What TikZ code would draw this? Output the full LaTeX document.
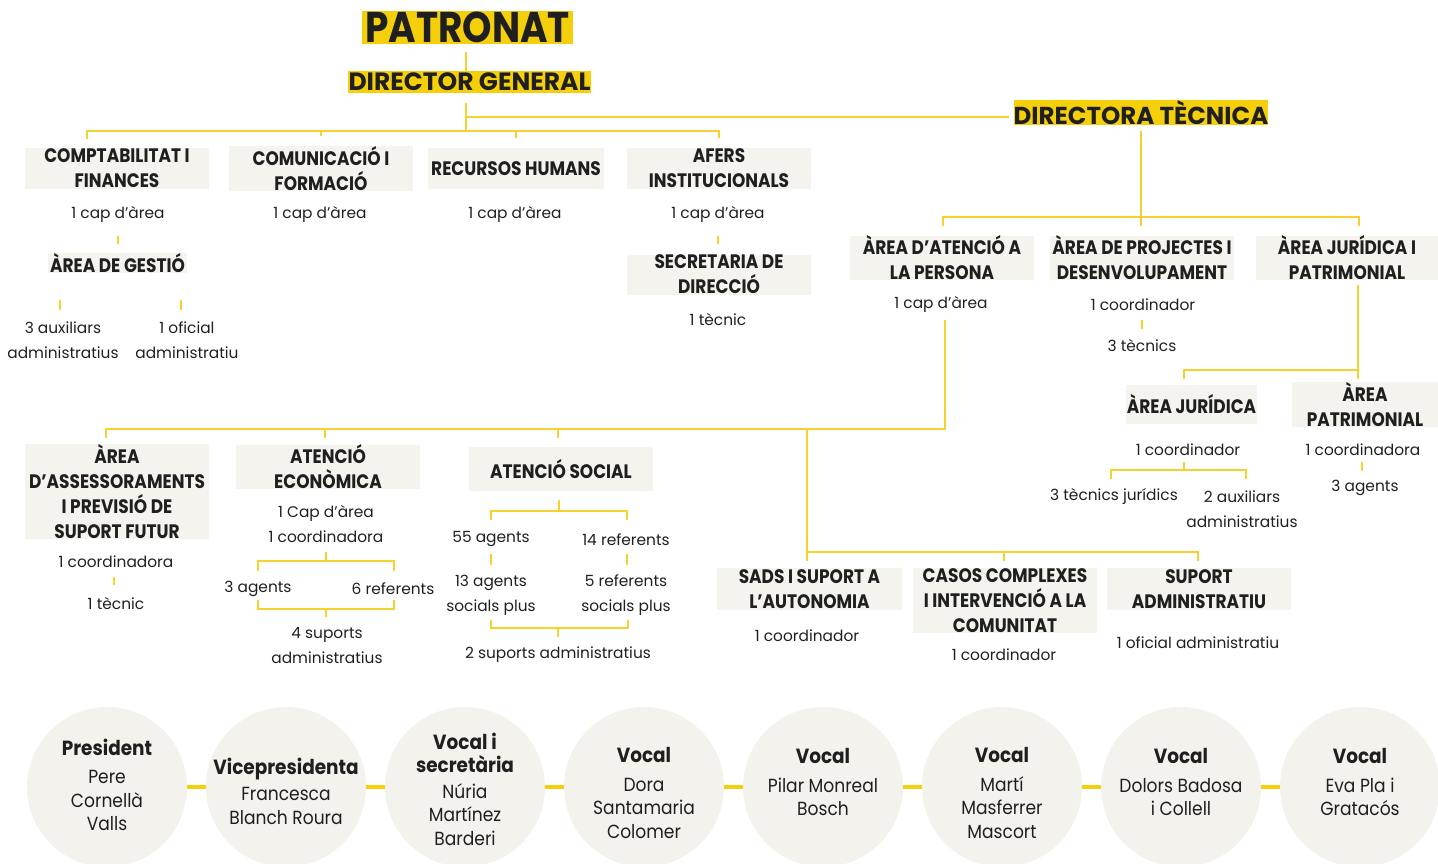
\documentclass[tikz,border=0pt]{standalone}
\usepackage{fontspec}
\setmainfont{Poppins}
\newfontfamily\hdfont{Poppins}[FakeStretch=0.87]
\newfontfamily\cfont{Poppins}[FakeStretch=0.9]
\definecolor{hyel}{HTML}{F5CF0A}
\definecolor{lyel}{HTML}{F6D22E}
\definecolor{boxc}{HTML}{F4F3EE}
\definecolor{circc}{HTML}{F3F2ED}
\definecolor{ink}{HTML}{1F1F1F}
\tikzset{
  ln/.style={draw=lyel, line width=1.8pt},
  conn/.style={draw=hyel, line width=4pt},
  hl/.style={fill=hyel, text=ink, inner sep=0pt},
  gbox/.style={fill=boxc, text=ink, inner sep=0pt, minimum width=184pt, minimum height=40pt, align=center, font=\hdfont\bfseries\fontsize{19.5}{25}\selectfont},
  tx/.style={text=ink, inner sep=0pt, align=center, yshift=-1.5pt, font=\fontsize{15.4}{25}\selectfont},
  circ/.style={circle, fill=circc, minimum size=160pt, inner sep=0pt},
  ctext/.style={text=ink, inner sep=0pt, align=center, font=\cfont\fontsize{19}{23.5}\selectfont},
  ctitle/.style={font=\cfont\bfseries\fontsize{20.5}{23.5}\selectfont},
}
\begin{document}
\begin{tikzpicture}[x=1pt,y=-1pt]
\useasboundingbox (0,0) rectangle (1438,864);
% ---------- top titles
\node[hl, minimum width=211pt, minimum height=33pt, font=\hdfont\bfseries\fontsize{43}{43}\selectfont] (patronat) at (467.5,27.5) {PATRONAT};
\node[hl, minimum width=243pt, minimum height=22pt, font=\bfseries\fontsize{25}{25}\selectfont] (dirgen) at (469.5,82) {DIRECTOR GENERAL};
\node[hl, minimum width=254pt, minimum height=23pt, font=\bfseries\fontsize{24.5}{25}\selectfont] (dirtec) at (1141,112.5) {DIRECTORA TÈCNICA};
% ---------- first level boxes
\node[gbox] (comp) at (117,168.5) {COMPTABILITAT I\\FINANCES};
\node[gbox] (comu) at (321,168.5) {COMUNICACIÓ I\\FORMACIÓ};
\node[gbox, minimum width=176pt] (rrhh) at (516,168.5) {RECURSOS HUMANS};
\node[gbox] (afers) at (719,168.5) {AFERS\\INSTITUCIONALS};
\node[tx] (compt) at (118,213) {1 cap d’àrea};
\node[tx] (comut) at (320,213) {1 cap d’àrea};
\node[tx] (rrhht) at (515,213) {1 cap d’àrea};
\node[tx] (aferst) at (718,213) {1 cap d’àrea};
\node[gbox, minimum width=139pt, minimum height=19pt] (gestio) at (117.5,263) {ÀREA DE GESTIÓ};
\node[tx] (aux) at (63,338.5) {3 auxiliars\\administratius};
\node[tx] (ofi) at (187,338.5) {1 oficial\\administratiu};
\node[gbox] (secr) at (719,274.5) {SECRETARIA DE\\DIRECCIÓ};
\node[tx] (secrt) at (718,318) {1 tècnic};
% ---------- directora tecnica branch
\node[gbox] (atpers) at (942,258) {ÀREA D’ATENCIÓ A\\LA PERSONA};
\node[gbox] (proj) at (1142,258) {ÀREA DE PROJECTES I\\DESENVOLUPAMENT};
\node[gbox, minimum width=182pt] (jurpat) at (1347,258) {ÀREA JURÍDICA I\\PATRIMONIAL};
\node[tx] (atperst) at (941,303) {1 cap d’àrea};
\node[tx] (projt) at (1143,303) {1 coordinador};
\node[tx] (projb) at (1142,344) {3 tècnics};
\node[gbox, minimum width=131pt, minimum height=39pt] (jur) at (1191.5,404.5) {ÀREA JURÍDICA};
\node[gbox, minimum width=146pt, minimum height=39pt] (pat) at (1365,404.5) {ÀREA\\PATRIMONIAL};
\node[tx] (jurt) at (1188,448) {1 coordinador};
\node[tx] (jura) at (1114,495) {3 tècnics jurídics};
\node[tx] (jurb) at (1242,507.5) {2 auxiliars\\administratius};
\node[tx] (patt) at (1363,448) {1 coordinadora};
\node[tx] (patb) at (1365,486) {3 agents};
% ---------- atencio a la persona sub-areas
\node[gbox, minimum height=89pt] (assess) at (117,491.5) {ÀREA\\D’ASSESSORAMENTS\\I PREVISIÓ DE\\SUPORT FUTUR};
\node[tx] (assesst) at (116,560) {1 coordinadora};
\node[tx] (assessb) at (116,602) {1 tècnic};
\node[gbox] (econ) at (328,467) {ATENCIÓ\\ECONÒMICA};
\node[tx] (econt) at (326,522.5) {1 Cap d’àrea\\1 coordinadora};
\node[tx] (econa) at (258,587) {3 agents};
\node[tx] (econb) at (393,587) {6 referents};
\node[tx] (econc) at (327,644) {4 suports\\administratius};
\node[gbox, minimum height=44pt] (soc) at (561,469) {ATENCIÓ SOCIAL};
\node[tx] (soca) at (491,538) {55 agents};
\node[tx] (socb) at (626,538) {14 referents};
\node[tx] (socc) at (491,593.5) {13 agents\\socials plus};
\node[tx] (socd) at (626,593.5) {5 referents\\socials plus};
\node[tx] (soce) at (558,653) {2 suports administratius};
\node[gbox, minimum width=185pt, minimum height=42pt] (sads) at (809.5,589) {SADS I SUPORT A\\L’AUTONOMIA};
\node[gbox, minimum height=65pt] (casos) at (1005,600.5) {CASOS COMPLEXES\\I INTERVENCIÓ A LA\\COMUNITAT};
\node[gbox, minimum height=42pt] (supadm) at (1199,589) {SUPORT\\ADMINISTRATIU};
\node[tx] (sadst) at (807,634) {1 coordinador};
\node[tx] (casost) at (1004,653) {1 coordinador};
\node[tx] (supadmt) at (1198,641) {1 oficial administratiu};
% ---------- junction coordinates
\coordinate (jA) at (466,131);
\coordinate (jB) at (466,117);
\coordinate (tc) at (87,139);
\coordinate (jT) at (1141,217);
\coordinate (jP) at (945,429);
\coordinate (jS) at (807,552);
% ---------- connectors
\draw[ln] (466,52) -- (466,71);
\draw[ln] (466,103) -- (jA);
\draw[ln] (jB) -- ([xshift=-4pt]dirtec.west |- jB);
\draw[ln] (tc) |- (jA) -| ([yshift=10pt]afers.north);
\draw[ln] ([yshift=10pt]comu.north) -- (comu.north |- jA);
\draw[ln] ([yshift=10pt]rrhh.north) -- (rrhh.north |- jA);
\draw[ln] (118,236) -- (118,244);
\draw[ln] (60,300) -- (60,310);
\draw[ln] (181,300) -- (181,310);
\draw[ln] (718,236) -- (718,244);
% directora tecnica
\draw[ln] ([yshift=-6pt]dirtec.south) -- (1141,226);
\draw[ln] (943,226) |- (jT) -| (1359,226);
\draw[ln] (1142,320) -- (1142,329);
\draw[ln] (1358,285) -- (1358,379);
\draw[ln] (1184,379) |- (1358,370);
\draw[ln] (1184,462) -- (1184,470);
\draw[ln] (1111,479) |- (1184,470) -| (1246,479);
\draw[ln] (1362,462) -- (1362,471);
% atencio a la persona
\draw[ln] (945,320) -- (jP) -- (106,429) -- (106,438);
\draw[ln] (325,429) -- (325,438);
\draw[ln] (558,429) -- (558,438);
\draw[ln] (807,429) -- (807,561);
\draw[ln] (jS) -| (1198,561);
\draw[ln] (1004,552) -- (1004,561);
\draw[ln] (114,577) -- (114,585);
\draw[ln] (326,552) -- (326,561);
\draw[ln] (258,571) |- (326,561) -| (394,571);
\draw[ln] (258,600) |- (326,609) -| (394,600);
\draw[ln] (326,609) -- (326,617);
\draw[ln] (559,500) -- (559,511);
\draw[ln] (491,520) |- (559,511) -| (627,520);
\draw[ln] (491,554) -- (491,565);
\draw[ln] (627,554) -- (627,565);
\draw[ln] (491,620) |- (558,628) -| (628,620);
\draw[ln] (558,628) -- (558,637);
% ---------- patronat members
\foreach \i/\x in {1/107,2/286,3/465,4/644,5/823,6/1002,7/1181,8/1360}{
  \node[circ] (c\i) at (\x,787) {};
}
\foreach \a/\b in {1/2,2/3,3/4,4/5,5/6,6/7,7/8}{
  \draw[conn] (c\a.east) -- (c\b.west);
}
\newcommand\ctt[1]{{\cfont\bfseries\fontsize{20.5}{23.5}\selectfont #1}}
\node[ctext] (c1t) at (107,785) {\ctt{President}\\[5pt]Pere\\Cornellà\\Valls};
\node[ctext] (c2t) at (286,791) {\ctt{Vicepresidenta}\\[3pt]Francesca\\Blanch Roura};
\node[ctext] (c3t) at (465,789) {\ctt{Vocal i}\\\ctt{secretària}\\[2pt]Núria\\Martínez\\Barderi};
\node[ctext] (c4t) at (644,793) {\ctt{Vocal}\\[5pt]Dora\\Santamaria\\Colomer};
\node[ctext] (c5t) at (823,782) {\ctt{Vocal}\\[5pt]Pilar Monreal\\Bosch};
\node[ctext] (c6t) at (1002,793) {\ctt{Vocal}\\[5pt]Martí\\Masferrer\\Mascort};
\node[ctext] (c7t) at (1181,782) {\ctt{Vocal}\\[5pt]Dolors Badosa\\i Collell};
\node[ctext] (c8t) at (1360,782) {\ctt{Vocal}\\[5pt]Eva Pla i\\Gratacós};
\end{tikzpicture}
\end{document}
